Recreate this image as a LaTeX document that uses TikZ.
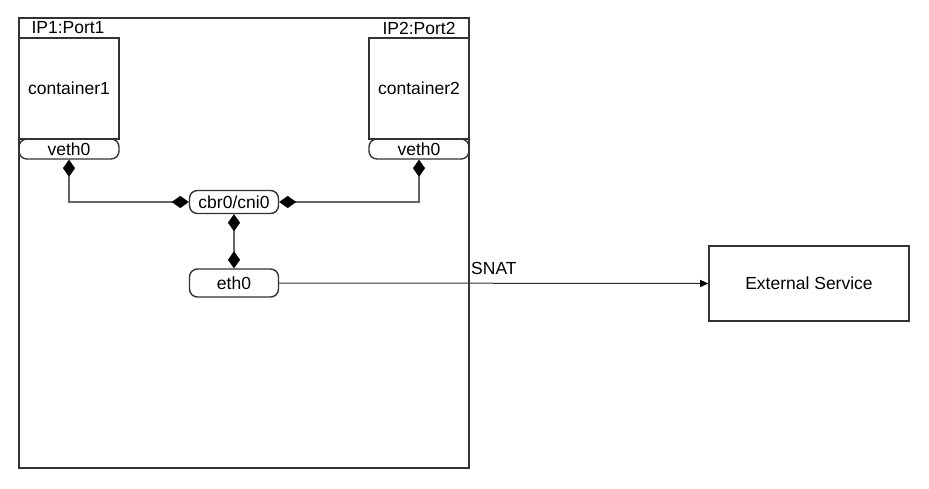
\documentclass[tikz,border=0pt]{standalone}
\usepackage{fontspec}
\setmainfont{Liberation Sans}
\usetikzlibrary{arrows.meta}

\definecolor{boxline}{HTML}{333333}
\definecolor{wire}{HTML}{666666}

\tikzset{
  every node/.style={font=\fontsize{17.5}{20}\selectfont, text=black, inner sep=0pt},
  hostbox/.style={draw=boxline, line width=1.6pt, rectangle},
  ctrbox/.style={draw=boxline, line width=1.6pt, rectangle, minimum width=100pt, minimum height=101pt},
  pill/.style={draw=boxline, line width=1.4pt, rectangle, rounded corners=8pt},
  portlabel/.style={anchor=center},
  dtip/.tip={Diamond[length=17pt,width=12pt,color=black,fill=black,line width=0.4pt]},
  link/.style={draw=wire, line width=1.4pt, dtip-dtip},
  flow/.style={draw=boxline, line width=1pt, -{Triangle[length=8pt,width=7pt,color=black]}},
}

\begin{document}
\begin{tikzpicture}[x=1pt, y=-1pt]
  \useasboundingbox (0,0) rectangle (929,489);

  % host boundary
  \node[hostbox, minimum width=450pt, minimum height=450pt] (host) at (244,243) {};

  % containers with their port labels and veth ends
  \node[portlabel] (ip1) at (68,28) {IP1:Port1};
  \node[ctrbox] (c1) at (69,88.5) {container1};
  \node[pill, minimum width=100pt, minimum height=20pt] (veth1) at (69,149) {veth0};

  \node[portlabel] (ip2) at (419,28) {IP2:Port2};
  \node[ctrbox] (c2) at (419,88.5) {container2};
  \node[pill, minimum width=100pt, minimum height=20pt] (veth2) at (419,149) {veth0};

  % bridge and host interface
  \node[pill, minimum width=89pt, minimum height=23pt] (cbr) at (234,202) {cbr0/cni0};
  \node[pill, minimum width=89pt, minimum height=28pt] (eth) at (234,283) {eth0};

  % external endpoint
  \node[draw=boxline, line width=1.6pt, minimum width=200pt, minimum height=75pt] (ext) at (809,283.5) {External Service};

  % links
  \draw[link] (veth1.south) |- (cbr.west);
  \draw[link] (cbr.east) -| (veth2.south);
  \draw[link] (cbr.south) -- (eth.north);
  \draw[flow] (eth.east) -- (ext.west);
  \node[anchor=west] (snat) at (471,268) {SNAT};
\end{tikzpicture}
\end{document}
